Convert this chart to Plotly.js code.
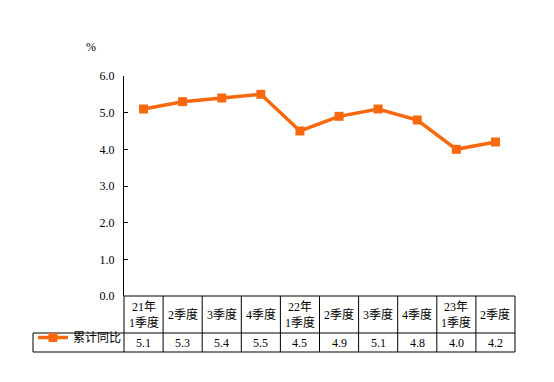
<!DOCTYPE html>
<html><head><meta charset="utf-8">
<script src="https://cdn.plot.ly/plotly-3.0.1.min.js"></script>
<style>body{margin:0;background:#fff}#c{width:554px;height:382px}</style>
</head><body><div id="c"></div>
<script>
const categories = ["21年<br>1季度","2季度","3季度","4季度","22年<br>1季度","2季度","3季度","4季度","23年<br>1季度","2季度"];
const values = [5.1,5.3,5.4,5.5,4.5,4.9,5.1,4.8,4.0,4.2];
const seriesName = "累计同比";
const yTicks = [0,1,2,3,4,5,6];

const FONT = "Liberation Serif, 'Times New Roman', 'Noto Sans CJK SC', serif";
const COLOR = "#F7680F";
const L=124, R=39, T=76, B=86, W=554, H=382;
const pw = W-L-R, ph = H-T-B;
const py = y => (T+ph-y)/ph;       // pixel y -> paper
const px = x => (x-L)/pw;          // pixel x -> paper
const row0 = 0, row1 = py(333), row2 = py(352), leftX = px(33);

const idx = categories.map((c,i)=>i);
const shapes = [];
const line = (x0,y0,x1,y1)=>shapes.push({type:'line',xref:'paper',yref:'paper',x0,y0,x1,y1,line:{color:'#000',width:1}});
line(0,row0,1,row0);
line(leftX,row1,1,row1);
line(leftX,row2,1,row2);
line(leftX,row1,leftX,row2);
for(let i=0;i<=categories.length;i++){ const x=i/categories.length; line(x,0,x,row2); }

const annotations = [];
values.forEach((v,i)=>annotations.push({x:i,xref:'x',yref:'paper',y:(row1+row2)/2,text:v.toFixed(1),showarrow:false,font:{family:FONT,size:12,color:'#000'},xanchor:'center',yanchor:'middle'}));
categories.forEach((c,i)=>annotations.push({x:i,xref:'x',yref:'paper',y:(row0+row1)/2,text:c,showarrow:false,font:{family:FONT,size:12,color:'#000'},xanchor:'center',yanchor:'middle',align:'center'}));
annotations.push({xref:'paper',yref:'paper',x:px(91),y:py(47),text:'%',showarrow:false,font:{family:FONT,size:12,color:'#000'},xanchor:'center',yanchor:'middle'});

Plotly.newPlot('c',[{
  x: idx, y: values, type:'scatter', mode:'lines+markers', name: seriesName,
  line:{color:COLOR,width:3.5}, marker:{symbol:'square',size:9,color:COLOR}
}],{
  width:W,height:H,margin:{l:L,r:R,t:T,b:B},
  paper_bgcolor:'#fff',plot_bgcolor:'#fff',
  font:{family:FONT,size:12,color:'#000'},
  showlegend:true,
  legend:{x:leftX,y:row2,xanchor:'left',yanchor:'bottom',bgcolor:'rgba(0,0,0,0)',font:{family:FONT,size:12},itemwidth:30},
  xaxis:{range:[-0.5,categories.length-0.5],tickvals:idx,showticklabels:false,showline:false,showgrid:false,zeroline:false,ticks:'',fixedrange:true},
  yaxis:{range:[0,6],tickvals:yTicks,tickformat:'.1f',showline:true,linecolor:'#000',linewidth:1,ticks:'inside',ticklen:4,tickcolor:'#000',showgrid:false,zeroline:false,tickfont:{family:FONT,size:12},ticklabelstandoff:6,fixedrange:true},
  shapes, annotations
},{displayModeBar:false,staticPlot:true});
</script></body></html>
